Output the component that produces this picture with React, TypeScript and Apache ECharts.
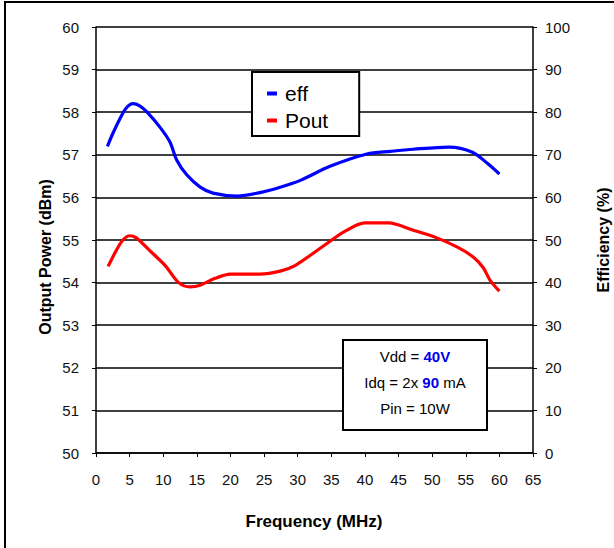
import React, { useEffect, useRef } from "react";
import * as echarts from "echarts";

const freqTicks = [0, 5, 10, 15, 20, 25, 30, 35, 40, 45, 50, 55, 60, 65];
const effData: [number, number][] = [
  [1.7, 72], [2.5, 75], [3.6, 78.6], [4.5, 81], [5.5, 82], [6.5, 81.5], [7.6, 80],
  [9.5, 76.5], [11, 73], [12, 68.8], [13.5, 65.3], [15.5, 62.4], [17.4, 61], [21, 60.3],
  [24, 61], [27.4, 62.4], [30.4, 64], [34.8, 67.3], [40.3, 70.2], [43.8, 70.8],
  [47.2, 71.3], [52.5, 71.8], [56, 70.6], [58.2, 68], [60, 65.5],
];
const poutData: [number, number][] = [
  [1.8, 54.38], [3, 54.75], [4, 55.0], [5, 55.1], [6, 55.05], [8, 54.75], [10.3, 54.4],
  [12.3, 54.0], [14, 53.9], [15.5, 53.94], [17.7, 54.1], [20, 54.2], [24.4, 54.2],
  [27.4, 54.27], [29.6, 54.4], [33.3, 54.8], [37, 55.2], [40, 55.4], [43.5, 55.4],
  [47.2, 55.23], [50.7, 55.05], [53.9, 54.82], [56.1, 54.6], [57.6, 54.35],
  [58.6, 54.06], [60, 53.8],
];
const seriesNames = ["eff", "Pout"];
const FONT = "'Liberation Sans', Arial, sans-serif";

export default function App() {
  const ref = useRef<HTMLDivElement>(null);
  useEffect(() => {
    if (!ref.current) return;
    const chart = echarts.init(ref.current, null, { renderer: "svg" });
    const tickLabel = { color: "#111", fontSize: 15, fontFamily: FONT };
    const gridLine = { show: true, lineStyle: { color: "#000", width: 1.5 } };
    chart.setOption({
      animation: false,
      backgroundColor: "#fff",
      grid: { left: 96, top: 27, width: 437, height: 426 },
      legend: {
        data: seriesNames,
        orient: "vertical",
        left: 252,
        top: 72,
        padding: [11, 31, 5, 15],
        itemGap: 6,
        itemWidth: 10,
        itemHeight: 4,
        icon: "rect",
        backgroundColor: "#fff",
        borderColor: "#000",
        borderWidth: 2,
        borderRadius: 0,
        textStyle: { fontSize: 21, fontFamily: FONT, color: "#000", padding: [0, 0, 0, 3] },
        z: 10,
      },
      xAxis: {
        type: "value",
        min: freqTicks[0],
        max: freqTicks[freqTicks.length - 1],
        interval: 5,
        axisLine: { show: true, lineStyle: { color: "#000", width: 1.5 } },
        axisTick: { show: true, inside: false, length: 4, lineStyle: { color: "#000" } },
        axisLabel: { ...tickLabel, margin: 19 },
        splitLine: { show: false },
      },
      yAxis: [
        {
          type: "value",
          min: 50,
          max: 60,
          interval: 1,
          position: "left",
          axisLine: { show: true, lineStyle: { color: "#000", width: 1.5 } },
          axisTick: { show: true, inside: false, length: 4, lineStyle: { color: "#000" } },
          axisLabel: { ...tickLabel, margin: 17 },
          splitLine: gridLine,
        },
        {
          type: "value",
          min: 0,
          max: 100,
          interval: 10,
          position: "right",
          axisLine: { show: true, lineStyle: { color: "#000", width: 1.5 } },
          axisTick: { show: true, inside: false, length: 4, lineStyle: { color: "#000" } },
          axisLabel: { ...tickLabel, margin: 12 },
          splitLine: { show: false },
        },
      ],
      series: [
        {
          name: "eff",
          type: "line",
          yAxisIndex: 1,
          data: effData,
          smooth: 0.3,
          showSymbol: false,
          symbol: "none",
          color: "#0000ff",
          lineStyle: { color: "#0000ff", width: 3.2 },
          z: 5,
        },
        {
          name: "Pout",
          type: "line",
          yAxisIndex: 0,
          data: poutData,
          smooth: 0.3,
          showSymbol: false,
          symbol: "none",
          color: "#ff0000",
          lineStyle: { color: "#ff0000", width: 3.2 },
          z: 5,
        },
      ],
      graphic: [
        {
          type: "rect",
          shape: { x: 5, y: 2, width: 800, height: 800 },
          style: { fill: "transparent", stroke: "#000", lineWidth: 2 },
          z: 0,
          silent: true,
        },
        {
          type: "text",
          x: 45,
          y: 257,
          rotation: Math.PI / 2,
          style: {
            text: "Output Power (dBm)",
            fontSize: 16,
            fontWeight: "bold",
            fontFamily: FONT,
            fill: "#000",
            align: "center",
            verticalAlign: "middle",
          },
        },
        {
          type: "text",
          x: 603,
          y: 240,
          rotation: Math.PI / 2,
          style: {
            text: "Efficiency (%)",
            fontSize: 16,
            fontWeight: "bold",
            fontFamily: FONT,
            fill: "#000",
            align: "center",
            verticalAlign: "middle",
          },
        },
        {
          type: "text",
          x: 314,
          y: 521,
          style: {
            text: "Frequency (MHz)",
            fontSize: 17,
            fontWeight: "bold",
            fontFamily: FONT,
            fill: "#000",
            align: "center",
            verticalAlign: "middle",
          },
        },
        {
          type: "rect",
          shape: { x: 343, y: 340, width: 144, height: 90 },
          style: { fill: "#fff", stroke: "#000", lineWidth: 2 },
          z: 20,
        },
        {
          type: "text",
          x: 415,
          y: 356,
          z: 21,
          style: {
            text: "Vdd = {b|40V}",
            fontSize: 15,
            fontFamily: FONT,
            fill: "#000",
            align: "center",
            verticalAlign: "middle",
            rich: { b: { fontSize: 15, fontFamily: FONT, fontWeight: "bold", fill: "#0000ee" } },
          },
        },
        {
          type: "text",
          x: 415,
          y: 382,
          z: 21,
          style: {
            text: "Idq = 2x {b|90} mA",
            fontSize: 15,
            fontFamily: FONT,
            fill: "#000",
            align: "center",
            verticalAlign: "middle",
            rich: { b: { fontSize: 15, fontFamily: FONT, fontWeight: "bold", fill: "#0000ee" } },
          },
        },
        {
          type: "text",
          x: 415,
          y: 408,
          z: 21,
          style: {
            text: "Pin = 10W",
            fontSize: 15,
            fontFamily: FONT,
            fill: "#000",
            align: "center",
            verticalAlign: "middle",
          },
        },
      ],
    });
    return () => chart.dispose();
  }, []);
  return (
    <div
      ref={ref}
      style={{ position: "fixed", left: 0, top: 0, width: 614, height: 548 }}
    />
  );
}
